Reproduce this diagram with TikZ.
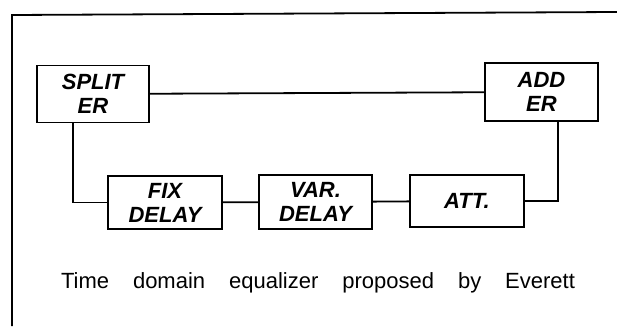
\documentclass[tikz,border=0pt]{standalone}
\usepackage{fontspec}
\setsansfont{Liberation Sans}
\usepackage{tikz}
\usetikzlibrary{positioning}

\begin{document}
\begin{tikzpicture}[
  x=1pt, y=-1pt,
  block/.style={draw, line width=1.8pt, align=center, inner sep=0pt,
                font=\sffamily\bfseries\itshape\fontsize{22}{24}\selectfont},
  wire/.style={line width=1.8pt}
]
\useasboundingbox (0,0) rectangle (617,326);
% frame
\draw[line width=1.8pt] (12,326) -- (12,15) -- (617,12);

\node[block, minimum width=112pt, minimum height=57pt] (split) at (93,94)    {SPLIT\\ER};
\node[block, minimum width=113pt, minimum height=58pt] (add)   at (541.5,92) {ADD\\ER};
\node[block, minimum width=114pt, minimum height=53pt] (fix)   at (165,202.5) {FIX\\DELAY};
\node[block, minimum width=113pt, minimum height=54pt] (var)   at (315.5,202) {VAR.\\DELAY};
\node[block, minimum width=114pt, minimum height=52pt] (att)   at (467,201)   {ATT.};

\draw[wire] (split) -- (add);
\draw[wire] ([xshift=37pt]split.south west) |- (fix.west);
\draw[wire] (fix) -- (var);
\draw[wire] (var) -- (att);
\draw[wire] ([xshift=74pt]add.south west) |- (att.east);

\node[font=\sffamily\fontsize{22}{26}\selectfont] (caption) at (318,283)
  {\makebox[514pt]{Time\hfill domain\hfill equalizer\hfill proposed\hfill by\hfill Everett}};
\end{tikzpicture}
\end{document}
